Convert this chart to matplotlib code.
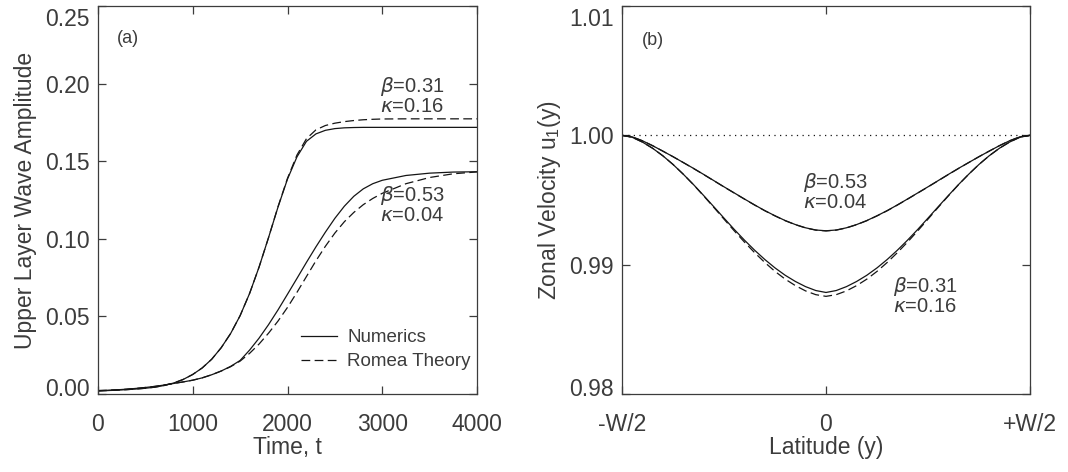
import matplotlib
matplotlib.use("Agg")
import matplotlib.pyplot as plt
from matplotlib.transforms import ScaledTranslation

plt.rcParams['font.family'] = ['Liberation Sans', 'DejaVu Sans']
plt.rcParams['mathtext.fontset'] = 'dejavusans'

# panel (a): wave amplitude vs time
t = [0, 100, 200, 300, 400, 500, 600, 700, 800, 900, 1000, 1100, 1200, 1300, 1400, 1500,
     1600, 1700, 1800, 1900, 2000, 2100, 2200, 2300, 2400, 2500, 2600, 2700, 2800, 2900,
     3000, 3250, 3500, 3750, 4000]
num_031 = [0.0020, 0.0022, 0.0025, 0.0028, 0.0032, 0.0037, 0.0044, 0.0055, 0.0071, 0.0094,
           0.0126, 0.0168, 0.0224, 0.0298, 0.0390, 0.0505, 0.0648, 0.0818, 0.1008, 0.1205,
           0.1385, 0.1528, 0.1628, 0.1676, 0.1699, 0.1710, 0.1715, 0.1717, 0.1718, 0.1718,
           0.1718, 0.1718, 0.1718, 0.1718, 0.1718]
rom_031 = [0.0020, 0.0022, 0.0025, 0.0028, 0.0032, 0.0037, 0.0044, 0.0055, 0.0071, 0.0094,
           0.0126, 0.0168, 0.0224, 0.0298, 0.0390, 0.0505, 0.0648, 0.0818, 0.1008, 0.1207,
           0.1390, 0.1540, 0.1645, 0.1702, 0.1730, 0.1745, 0.1755, 0.1762, 0.1767, 0.1770,
           0.1772, 0.1773, 0.1773, 0.1773, 0.1773]
num_053 = [0.0022, 0.0024, 0.0027, 0.0031, 0.0036, 0.0042, 0.0049, 0.0058, 0.0068, 0.0078,
           0.0089, 0.0104, 0.0124, 0.0148, 0.0178, 0.0216, 0.0283, 0.0360, 0.0447, 0.0542,
           0.0643, 0.0745, 0.0848, 0.0948, 0.1043, 0.1132, 0.1210, 0.1274, 0.1322, 0.1355,
           0.1377, 0.1408, 0.1423, 0.1430, 0.1432]
rom_053 = [0.0022, 0.0024, 0.0027, 0.0031, 0.0036, 0.0042, 0.0049, 0.0058, 0.0068, 0.0078,
           0.0089, 0.0104, 0.0124, 0.0148, 0.0176, 0.0212, 0.0262, 0.0322, 0.0392, 0.0470,
           0.0558, 0.0655, 0.0757, 0.0858, 0.0952, 0.1037, 0.1110, 0.1170, 0.1220, 0.1260,
           0.1293, 0.1355, 0.1395, 0.1419, 0.1431]

# panel (b): zonal velocity vs latitude
lat = [-0.5, -0.475, -0.45, -0.425, -0.4, -0.375, -0.35, -0.325, -0.3, -0.275, -0.25,
       -0.225, -0.2, -0.175, -0.15, -0.125, -0.1, -0.075, -0.05, -0.025, 0.0,
       0.025, 0.05, 0.075, 0.1, 0.125, 0.15, 0.175, 0.2, 0.225, 0.25,
       0.275, 0.3, 0.325, 0.35, 0.375, 0.4, 0.425, 0.45, 0.475, 0.5]
u_053 = [1.00000, 0.99988, 0.99958, 0.99920, 0.99878, 0.99835, 0.99790, 0.99745, 0.99698,
         0.99650, 0.99602, 0.99555, 0.99508, 0.99462, 0.99418, 0.99378, 0.99341, 0.99310,
         0.99285, 0.99268, 0.99262, 0.99268, 0.99285, 0.99310, 0.99341, 0.99378, 0.99418,
         0.99462, 0.99508, 0.99555, 0.99602, 0.99650, 0.99698, 0.99745, 0.99790, 0.99835,
         0.99878, 0.99920, 0.99958, 0.99988, 1.00000]
u_053_th = [1.00000, 0.99988, 0.99958, 0.99920, 0.99878, 0.99835, 0.99790, 0.99744, 0.99697,
            0.99649, 0.99601, 0.99554, 0.99507, 0.99461, 0.99417, 0.99377, 0.99340, 0.99309,
            0.99284, 0.99267, 0.99261, 0.99267, 0.99284, 0.99309, 0.99340, 0.99377, 0.99417,
            0.99461, 0.99507, 0.99554, 0.99601, 0.99649, 0.99697, 0.99744, 0.99790, 0.99835,
            0.99878, 0.99920, 0.99958, 0.99988, 1.00000]
u_031 = [1.00000, 0.99985, 0.99948, 0.99900, 0.99842, 0.99775, 0.99700, 0.99620, 0.99535,
         0.99448, 0.99360, 0.99273, 0.99190, 0.99112, 0.99040, 0.98975, 0.98918, 0.98870,
         0.98830, 0.98800, 0.98785, 0.98800, 0.98830, 0.98870, 0.98918, 0.98975, 0.99040,
         0.99112, 0.99190, 0.99273, 0.99360, 0.99448, 0.99535, 0.99620, 0.99700, 0.99775,
         0.99842, 0.99900, 0.99948, 0.99985, 1.00000]
u_031_th = [1.00000, 0.99985, 0.99948, 0.99900, 0.99842, 0.99775, 0.99700, 0.99619, 0.99532,
            0.99443, 0.99352, 0.99262, 0.99175, 0.99093, 0.99017, 0.98948, 0.98888, 0.98838,
            0.98797, 0.98768, 0.98755, 0.98768, 0.98797, 0.98838, 0.98888, 0.98948, 0.99017,
            0.99093, 0.99175, 0.99262, 0.99352, 0.99443, 0.99532, 0.99619, 0.99700, 0.99775,
            0.99842, 0.99900, 0.99948, 0.99985, 1.00000]

txt = '#3c3c3c'
lc = '#151515'
dash = (0, (7, 3.5))
fs = 16.5
afs = 14.5

fig = plt.figure(figsize=(10.68, 4.72), dpi=100)
W, H = 1068, 472
ax1 = fig.add_axes([98 / W, (H - 394) / H, 379 / W, 388 / H])
ax2 = fig.add_axes([622 / W, (H - 394) / H, 408 / W, 388 / H])

ax1.plot(t, num_031, color=lc, lw=0.9, label='Numerics')
ax1.plot(t, rom_031, color=lc, lw=0.9, ls=dash, label='Romea Theory')
ax1.plot(t, num_053, color=lc, lw=0.9)
ax1.plot(t, rom_053, color=lc, lw=0.9, ls=dash)
ax1.set_xlim(0, 4000)
ax1.set_ylim(0, 0.25)
ax1.set_xticks([0, 1000, 2000, 3000, 4000])
ax1.set_yticks([0, 0.05, 0.10, 0.15, 0.20, 0.25])
ax1.set_yticklabels(['0.00', '0.05', '0.10', '0.15', '0.20', '0.25'])
ax1.set_xlabel('Time, t', fontsize=fs, color=txt, labelpad=0)
ax1.set_ylabel('Upper Layer Wave Amplitude', fontsize=fs, color=txt, labelpad=6)
ax1.text(320, 0.2292, '(a)', fontsize=13, color=txt, ha='center', va='center')
ax1.text(3314, 0.1925, '$\\beta$=0.31\n$\\kappa$=0.16', fontsize=afs, color=txt,
         ha='center', va='center', linespacing=0.95)
ax1.text(3314, 0.1223, '$\\beta$=0.53\n$\\kappa$=0.04', fontsize=afs, color=txt,
         ha='center', va='center', linespacing=0.95)
leg = ax1.legend(loc='lower left', bbox_to_anchor=(0.49, 0.018), frameon=False,
                 fontsize=13.5, handlelength=1.95, handletextpad=0.55, labelspacing=0.35)
for tx in leg.get_texts():
    tx.set_color(txt)

ax2.axhline(1.0, color=lc, lw=0.9, ls=(0, (1, 3.5)))
ax2.plot(lat, u_053, color=lc, lw=0.9)
ax2.plot(lat, u_053_th, color=lc, lw=0.9, ls=dash)
ax2.plot(lat, u_031, color=lc, lw=0.9)
ax2.plot(lat, u_031_th, color=lc, lw=0.9, ls=dash)
ax2.set_xlim(-0.5, 0.5)
ax2.set_ylim(0.98, 1.01)
ax2.set_xticks([-0.5, 0, 0.5])
ax2.set_xticklabels(['-W/2', '0', '+W/2'])
ax2.set_yticks([0.98, 0.99, 1.00, 1.01])
ax2.set_yticklabels(['0.98', '0.99', '1.00', '1.01'])
ax2.set_xlabel('Latitude (y)', fontsize=fs, color=txt, labelpad=0)
ax2.set_ylabel('Zonal Velocity u$_\\mathregular{1}$(y)', fontsize=fs, color=txt, labelpad=4)
ax2.text(-0.424, 1.00735, '(b)', fontsize=13, color=txt, ha='center', va='center')
ax2.text(0.022, 0.99567, '$\\beta$=0.53\n$\\kappa$=0.04', fontsize=afs, color=txt,
         ha='center', va='center', linespacing=0.95)
ax2.text(0.243, 0.98763, '$\\beta$=0.31\n$\\kappa$=0.16', fontsize=afs, color=txt,
         ha='center', va='center', linespacing=0.95)

for ax in (ax1, ax2):
    ax.tick_params(direction='in', top=True, right=True, length=6, width=0.9,
                   labelsize=fs, labelcolor=txt, color=txt)
    ax.tick_params(axis='x', pad=14)
    ax.tick_params(axis='y', pad=6)
    for s in ax.spines.values():
        s.set_color(txt)
        s.set_linewidth(0.9)
    ylabs = ax.get_yticklabels()
    ylabs[0].set_transform(ylabs[0].get_transform() +
                           ScaledTranslation(0, 7 / 100, fig.dpi_scale_trans))
    ylabs[-1].set_transform(ylabs[-1].get_transform() +
                            ScaledTranslation(0, -11 / 100, fig.dpi_scale_trans))

fig.savefig('out.png', dpi=100)
